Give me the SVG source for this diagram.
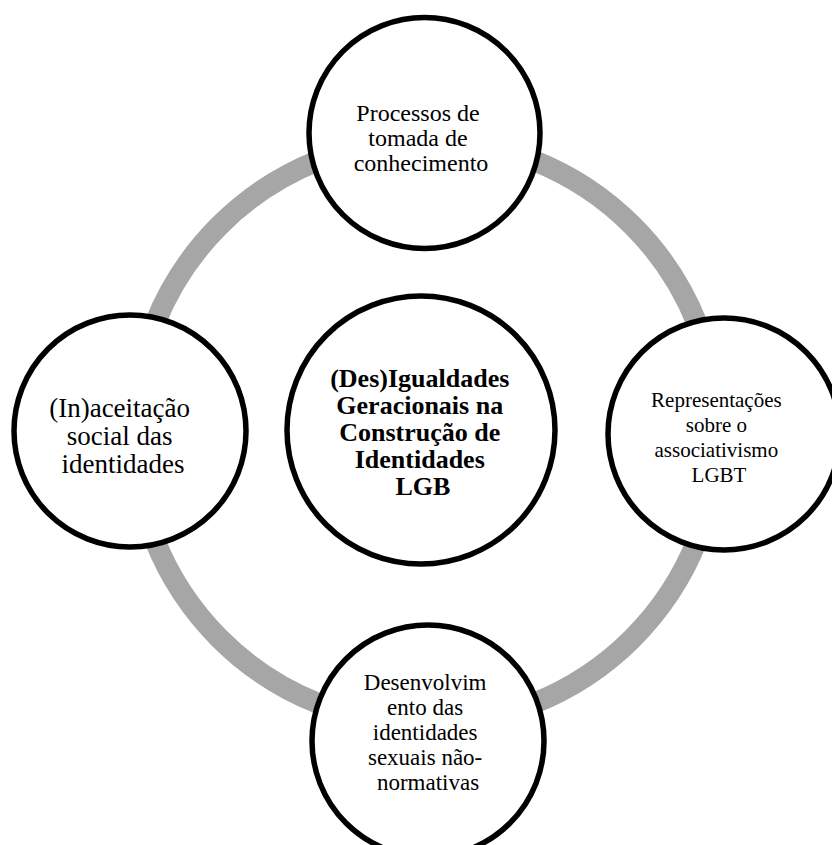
<svg xmlns="http://www.w3.org/2000/svg" width="832" height="845" viewBox="0 0 832 845">
<style>
.node{fill:#fff;stroke:#000;stroke-width:5.5}
.t{font-family:"Liberation Serif","Times New Roman",serif;fill:#000;text-anchor:middle}
.b{font-weight:bold}
</style>
<rect width="832" height="845" fill="#fff"/>
<g id="connectors">
<circle cx="426" cy="432" r="292" fill="none" stroke="#A6A6A6" stroke-width="21"/>
</g>
<g id="center">
<circle class="node" cx="421" cy="430" r="134"/>
<text class="t b" font-size="26">
<tspan x="423" y="387">(Des)Igualdades</tspan>
<tspan x="423" y="414">Geracionais na</tspan>
<tspan x="423" y="441">Construção de</tspan>
<tspan x="423" y="468">Identidades</tspan>
<tspan x="423" y="495">LGB</tspan>
</text>
</g>
<g id="top">
<circle class="node" cx="424.5" cy="133" r="115.5"/>
<text class="t" font-size="24">
<tspan x="421" y="121">Processos de</tspan>
<tspan x="421" y="146">tomada de</tspan>
<tspan x="421" y="171">conhecimento</tspan>
</text>
</g>
<g id="right">
<circle class="node" cx="724" cy="434" r="116"/>
<text class="t" font-size="21">
<tspan x="719" y="407">Representações</tspan>
<tspan x="719" y="432">sobre o</tspan>
<tspan x="719" y="457">associativismo</tspan>
<tspan x="719" y="482">LGBT</tspan>
</text>
</g>
<g id="bottom">
<circle class="node" cx="428" cy="741" r="116"/>
<text class="t" font-size="23">
<tspan x="428" y="690">Desenvolvim</tspan>
<tspan x="428" y="715">ento das</tspan>
<tspan x="428" y="740">identidades</tspan>
<tspan x="428" y="765">sexuais não-</tspan>
<tspan x="428" y="790">normativas</tspan>
</text>
</g>
<g id="left">
<circle class="node" cx="130" cy="431" r="116"/>
<text class="t" font-size="27">
<tspan x="123" y="417">(In)aceitação</tspan>
<tspan x="123" y="445">social das</tspan>
<tspan x="123" y="473">identidades</tspan>
</text>
</g>
</svg>
